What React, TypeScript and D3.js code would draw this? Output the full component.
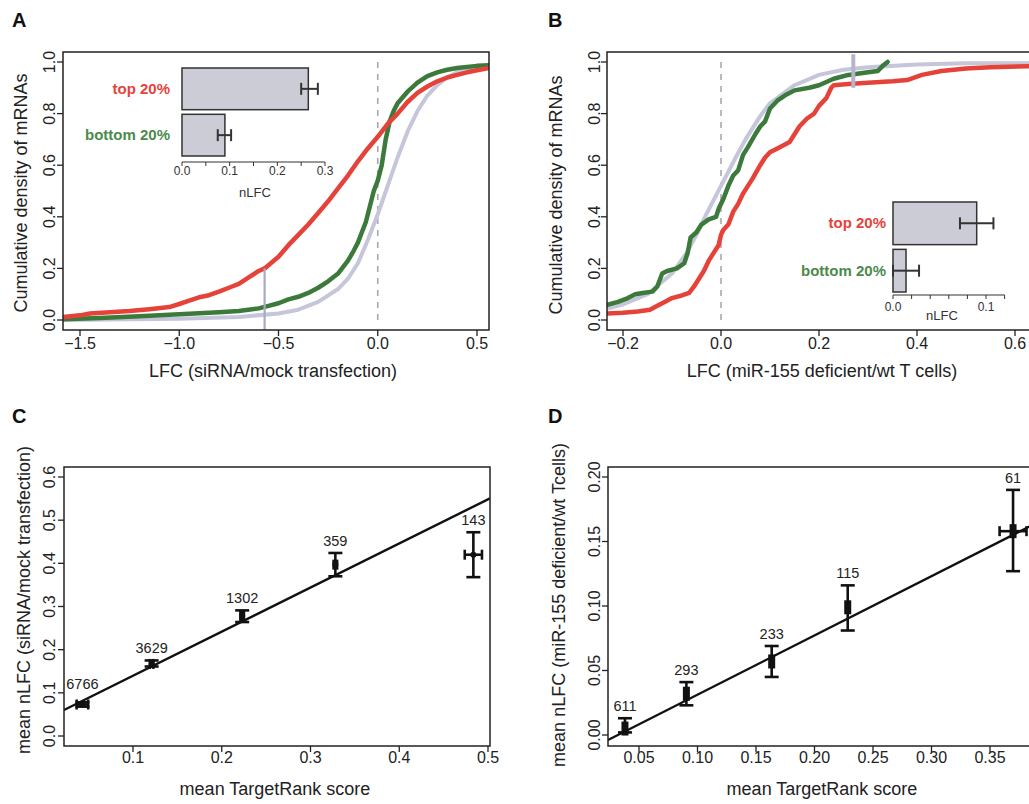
import React from 'react';
import * as d3 from 'd3';

const FONT = "'Liberation Sans', Arial, Helvetica, sans-serif";
const RED = '#e5433a';
const GREEN = '#3b7a3b';
const GREEN_TXT = '#4b8a4b';
const LAV = '#c6c6da';
const INK = '#222';

// ---------- Panel A (CDF, siRNA) ----------
const aTicksX = [-1.5, -1.0, -0.5, 0.0, 0.5];
const aTickLabelsX = ['\u22121.5', '\u22121.0', '\u22120.5', '0.0', '0.5'];
const cdfTicksY = [0, 0.2, 0.4, 0.6, 0.8, 1.0];
const cdfTickLabelsY = ['0.0', '0.2', '0.4', '0.6', '0.8', '1.0'];

const aRedX = [-1.6, -1.5, -1.45, -1.35, -1.25, -1.15, -1.05, -1.0, -0.95, -0.9, -0.85, -0.8, -0.75, -0.7, -0.65, -0.6, -0.57, -0.5, -0.45, -0.4, -0.35, -0.3, -0.25, -0.2, -0.15, -0.1, -0.05, 0.0, 0.05, 0.1, 0.15, 0.2, 0.25, 0.3, 0.35, 0.4, 0.45, 0.5, 0.57];
const aRedY = [0.01, 0.018, 0.025, 0.03, 0.035, 0.042, 0.05, 0.062, 0.075, 0.088, 0.096, 0.11, 0.125, 0.14, 0.165, 0.19, 0.2, 0.245, 0.29, 0.33, 0.37, 0.415, 0.46, 0.51, 0.56, 0.615, 0.665, 0.71, 0.76, 0.8, 0.845, 0.88, 0.905, 0.925, 0.94, 0.95, 0.96, 0.968, 0.978];

const aGreenX = [-1.6, -1.4, -1.2, -1.0, -0.8, -0.7, -0.6, -0.55, -0.5, -0.45, -0.4, -0.35, -0.3, -0.25, -0.2, -0.15, -0.12, -0.1, -0.08, -0.06, -0.04, -0.02, 0.0, 0.02, 0.04, 0.06, 0.08, 0.1, 0.15, 0.2, 0.25, 0.3, 0.35, 0.4, 0.5, 0.57];
const aGreenY = [0.003, 0.008, 0.015, 0.022, 0.03, 0.035, 0.045, 0.055, 0.065, 0.08, 0.09, 0.105, 0.125, 0.15, 0.18, 0.23, 0.27, 0.3, 0.34, 0.38, 0.44, 0.5, 0.54, 0.6, 0.7, 0.77, 0.81, 0.84, 0.885, 0.92, 0.945, 0.96, 0.97, 0.977, 0.985, 0.988];

const aGrayX = [-1.6, -1.0, -0.7, -0.5, -0.4, -0.3, -0.2, -0.15, -0.1, -0.05, 0.0, 0.05, 0.1, 0.15, 0.2, 0.25, 0.3, 0.35, 0.4, 0.5, 0.57];
const aGrayY = [0.0, 0.005, 0.012, 0.025, 0.04, 0.07, 0.12, 0.16, 0.22, 0.31, 0.41, 0.52, 0.63, 0.73, 0.81, 0.87, 0.91, 0.94, 0.96, 0.98, 0.985];

const aMarkerX = -0.57;
const aMarkerTop = 0.2;

const insetGroups = ['top 20%', 'bottom 20%'];
const aInsetValues = [0.265, 0.09];
const aInsetErrLo = [0.25, 0.075];
const aInsetErrHi = [0.285, 0.103];
const aInsetTicks = [0, 0.05, 0.1, 0.15, 0.2, 0.25, 0.3];
const aInsetTickLabels = ['0.0', '', '0.1', '', '0.2', '', '0.3'];

// ---------- Panel B (CDF, miR-155) ----------
const bTicksX = [-0.2, 0.0, 0.2, 0.4, 0.6];
const bTickLabelsX = ['\u22120.2', '0.0', '0.2', '0.4', '0.6'];

const bRedX = [-0.24, -0.2, -0.17, -0.145, -0.13, -0.115, -0.1, -0.08, -0.065, -0.055, -0.045, -0.035, -0.025, -0.015, -0.005, 0.0, 0.005, 0.015, 0.025, 0.035, 0.045, 0.055, 0.065, 0.08, 0.09, 0.1, 0.12, 0.14, 0.15, 0.16, 0.175, 0.19, 0.2, 0.215, 0.225, 0.23, 0.26, 0.3, 0.35, 0.38, 0.41, 0.45, 0.5, 0.55, 0.66];
const bRedY = [0.025, 0.028, 0.033, 0.04, 0.055, 0.07, 0.085, 0.095, 0.105, 0.13, 0.16, 0.19, 0.23, 0.26, 0.29, 0.33, 0.35, 0.37, 0.42, 0.45, 0.49, 0.52, 0.55, 0.6, 0.63, 0.65, 0.67, 0.69, 0.72, 0.75, 0.78, 0.8, 0.83, 0.86, 0.9, 0.91, 0.915, 0.92, 0.925, 0.93, 0.95, 0.965, 0.975, 0.98, 0.985];

const bGreenX = [-0.24, -0.21, -0.19, -0.175, -0.16, -0.14, -0.13, -0.12, -0.11, -0.09, -0.075, -0.068, -0.062, -0.05, -0.04, -0.025, -0.01, -0.005, 0.005, 0.015, 0.025, 0.035, 0.045, 0.055, 0.07, 0.08, 0.09, 0.1, 0.115, 0.13, 0.15, 0.18, 0.2, 0.23, 0.26, 0.3, 0.32, 0.33, 0.34];
const bGreenY = [0.055, 0.07, 0.085, 0.1, 0.105, 0.11, 0.13, 0.18, 0.19, 0.2, 0.22, 0.26, 0.32, 0.34, 0.37, 0.39, 0.4, 0.43, 0.47, 0.52, 0.56, 0.58, 0.64, 0.67, 0.72, 0.75, 0.77, 0.82, 0.85, 0.87, 0.89, 0.9, 0.91, 0.935, 0.95, 0.96, 0.965, 0.985, 1.0];

const bGrayX = [-0.24, -0.2, -0.15, -0.1, -0.07, -0.05, -0.03, 0.0, 0.03, 0.05, 0.08, 0.1, 0.15, 0.2, 0.25, 0.3, 0.4, 0.5, 0.66];
const bGrayY = [0.04, 0.06, 0.1, 0.18, 0.26, 0.33, 0.41, 0.52, 0.63, 0.7, 0.79, 0.84, 0.91, 0.95, 0.97, 0.98, 0.99, 0.995, 0.995];

const bMarkerX = 0.27;
const bMarkerLo = 0.9;
const bMarkerHi = 1.03;

const bInsetValues = [0.09, 0.014];
const bInsetErrLo = [0.072, 0.0];
const bInsetErrHi = [0.108, 0.028];
const bInsetTicks = [0, 0.02, 0.04, 0.06, 0.08, 0.1, 0.12];
const bInsetTickLabels = ['0.0', '', '', '', '', '0.1', ''];

// ---------- Panel C (scatter, siRNA) ----------
const cTicksX = [0.1, 0.2, 0.3, 0.4, 0.5];
const cTickLabelsX = ['0.1', '0.2', '0.3', '0.4', '0.5'];
const cTicksY = [0, 0.1, 0.2, 0.3, 0.4, 0.5, 0.6];
const cTickLabelsY = ['0.0', '0.1', '0.2', '0.3', '0.4', '0.5', '0.6'];
const cX = [0.043, 0.121, 0.223, 0.328, 0.4835];
const cY = [0.073, 0.167, 0.278, 0.397, 0.42];
const cYLo = [0.068, 0.161, 0.264, 0.37, 0.368];
const cYHi = [0.078, 0.175, 0.291, 0.424, 0.472];
const cXErr = [0.0065, 0.002, 0.002, 0.002, 0.0097];
const cN = ['6766', '3629', '1302', '359', '143'];
const cFitIntercept = 0.0374;
const cFitSlope = 1.0217;

// ---------- Panel D (scatter, miR-155) ----------
const dTicksX = [0.05, 0.1, 0.15, 0.2, 0.25, 0.3, 0.35];
const dTickLabelsX = ['0.05', '0.10', '0.15', '0.20', '0.25', '0.30', '0.35'];
const dTicksY = [0, 0.05, 0.1, 0.15, 0.2];
const dTickLabelsY = ['0.00', '0.05', '0.10', '0.15', '0.20'];
const dX = [0.038, 0.0905, 0.1634, 0.2284, 0.3697];
const dY = [0.005, 0.032, 0.057, 0.099, 0.158];
const dYLo = [0.002, 0.023, 0.045, 0.081, 0.127];
const dYHi = [0.013, 0.041, 0.069, 0.116, 0.19];
const dXErr = [0.001, 0.001, 0.001, 0.001, 0.0115];
const dN = ['611', '293', '233', '115', '61'];
const dFitIntercept = -0.0147;
const dFitSlope = 0.4595;

type Box = { x0: number; x1: number; y0: number; y1: number };
type Lin = d3.ScaleLinear<number, number>;

function Frame({ box }: { box: Box }) {
  return <rect x={box.x0} y={box.y0} width={box.x1 - box.x0} height={box.y1 - box.y0} fill="none" stroke={INK} strokeWidth={1.5} />;
}

function XAxis({ box, scale, ticks, labels, labelY }: { box: Box; scale: Lin; ticks: number[]; labels: string[]; labelY: number }) {
  return (
    <g>
      {ticks.map((t, i) => (
        <g key={i}>
          <line x1={scale(t)} x2={scale(t)} y1={box.y1} y2={box.y1 + 6} stroke={INK} strokeWidth={1.3} />
          <text x={scale(t)} y={labelY} textAnchor="middle" fontSize={16} fill={INK}>{labels[i]}</text>
        </g>
      ))}
    </g>
  );
}

function YAxis({ box, scale, ticks, labels, labelX }: { box: Box; scale: Lin; ticks: number[]; labels: string[]; labelX: number }) {
  return (
    <g>
      {ticks.map((t, i) => (
        <g key={i}>
          <line x1={box.x0} x2={box.x0 - 6} y1={scale(t)} y2={scale(t)} stroke={INK} strokeWidth={1.3} />
          <text transform={`translate(${labelX},${scale(t)}) rotate(-90)`} textAnchor="middle" fontSize={16} fill={INK}>{labels[i]}</text>
        </g>
      ))}
    </g>
  );
}

function curvePath(xs: number[], ys: number[], sx: Lin, sy: Lin) {
  const line = d3.line<number>().x((d) => sx(d)).y((_, i) => sy(ys[i])).curve(d3.curveLinear);
  return line(xs) || '';
}

function Inset({ sx, top, bottom, axisY, values, lo, hi, ticks, tickLabels, tickLabelY, labelRight, nlfcX, nlfcY }: any) {
  const band = d3.scaleBand<string>().domain(insetGroups).range([top, bottom]).paddingInner(0.1);
  const bw = band.bandwidth();
  const x0 = sx(0);
  return (
    <g>
      {insetGroups.map((g, i) => {
        const y = band(g) as number;
        const cy = y + bw / 2;
        return (
          <g key={g}>
            <rect x={x0} y={y} width={sx(values[i]) - x0} height={bw} fill="#cbccd6" stroke="#333" strokeWidth={1.5} />
            <line x1={sx(lo[i])} x2={sx(hi[i])} y1={cy} y2={cy} stroke="#333" strokeWidth={2} />
            <line x1={sx(lo[i])} x2={sx(lo[i])} y1={cy - 6} y2={cy + 6} stroke="#333" strokeWidth={2} />
            <line x1={sx(hi[i])} x2={sx(hi[i])} y1={cy - 6} y2={cy + 6} stroke="#333" strokeWidth={2} />
            <text x={labelRight} y={cy + 5} textAnchor="end" fontSize={15} fontWeight="bold" fill={i === 0 ? RED : GREEN_TXT}>{g}</text>
          </g>
        );
      })}
      <line x1={sx(ticks[0])} x2={sx(ticks[ticks.length - 1])} y1={axisY} y2={axisY} stroke="#333" strokeWidth={1.2} />
      {ticks.map((t: number, i: number) => (
        <g key={i}>
          <line x1={sx(t)} x2={sx(t)} y1={axisY} y2={axisY + 4} stroke="#333" strokeWidth={1} />
          {tickLabels[i] ? <text x={sx(t)} y={tickLabelY} textAnchor="middle" fontSize={12} fill="#333">{tickLabels[i]}</text> : null}
        </g>
      ))}
      <text x={nlfcX} y={nlfcY} textAnchor="middle" fontSize={13} fill="#333">nLFC</text>
    </g>
  );
}

function CdfPanel({ id, box, sx, sy, xTicks, xLabels, yLabelX, red, green, gray, children, xTitle, xTitleX, yTitleX, yTitleY, letter, letterX }: any) {
  return (
    <g>
      <defs>
        <clipPath id={id}><rect x={box.x0} y={box.y0} width={box.x1 - box.x0} height={box.y1 - box.y0} /></clipPath>
      </defs>
      <line x1={sx(0)} x2={sx(0)} y1={sy(1.0)} y2={sy(0)} stroke="#a8a8b0" strokeWidth={1.6} strokeDasharray="6,6" />
      <g clipPath={`url(#${id})`} fill="none" strokeLinejoin="round" strokeLinecap="round">
        <path d={curvePath(gray[0], gray[1], sx, sy)} stroke={LAV} strokeWidth={4} />
        <path d={curvePath(green[0], green[1], sx, sy)} stroke={GREEN} strokeWidth={4.5} />
        <path d={curvePath(red[0], red[1], sx, sy)} stroke={RED} strokeWidth={4.5} />
      </g>
      {children}
      <Frame box={box} />
      <XAxis box={box} scale={sx} ticks={xTicks} labels={xLabels} labelY={box.y1 + 19} />
      <YAxis box={box} scale={sy} ticks={cdfTicksY} labels={cdfTickLabelsY} labelX={yLabelX} />
      <text x={xTitleX} y={377} textAnchor="middle" fontSize={18} fill={INK}>{xTitle}</text>
      <text transform={`translate(${yTitleX},${yTitleY}) rotate(-90)`} textAnchor="middle" fontSize={18} fill={INK}>Cumulative density of mRNAs</text>
      <text x={letterX} y={27} fontSize={20} fontWeight="bold" fill="#111">{letter}</text>
    </g>
  );
}

function ScatterPanel({ id, box, sx, sy, xTicks, xLabels, yTicks, yLabels, yLabelX, xs, ys, lo, hi, xerr, ns, a, b, yTitle, xTitleX, yTitleX, yTitleY, letter, letterX, markerRect }: any) {
  const domX = sx.invert;
  return (
    <g>
      <defs>
        <clipPath id={id}><rect x={box.x0} y={box.y0} width={box.x1 - box.x0} height={box.y1 - box.y0} /></clipPath>
      </defs>
      <g clipPath={`url(#${id})`}>
        <line x1={box.x0} x2={box.x1} y1={sy(a + b * domX(box.x0))} y2={sy(a + b * domX(box.x1))} stroke="#111" strokeWidth={2.4} />
      </g>
      {xs.map((x: number, i: number) => {
        const px = sx(x);
        const topPx = sy(hi[i]);
        const fitPx = sy(a + b * x);
        // keep the count label clear of the fitted line when the line runs just above the bar
        const labelY = fitPx < topPx && topPx - fitPx < 15 ? fitPx - 12 : topPx - 7;
        return (
          <g key={i} stroke="#111" strokeWidth={2.6}>
            <line x1={px} x2={px} y1={sy(lo[i])} y2={sy(hi[i])} />
            <line x1={px - 7} x2={px + 7} y1={sy(lo[i])} y2={sy(lo[i])} />
            <line x1={px - 7} x2={px + 7} y1={sy(hi[i])} y2={sy(hi[i])} />
            <line x1={sx(x - xerr[i])} x2={sx(x + xerr[i])} y1={sy(ys[i])} y2={sy(ys[i])} />
            <line x1={sx(x - xerr[i])} x2={sx(x - xerr[i])} y1={sy(ys[i]) - 5} y2={sy(ys[i]) + 5} />
            <line x1={sx(x + xerr[i])} x2={sx(x + xerr[i])} y1={sy(ys[i]) - 5} y2={sy(ys[i]) + 5} />
            {markerRect
              ? <rect x={px - 3.5} y={sy(ys[i]) - 7} width={7} height={14} fill="#111" stroke="none" />
              : <circle cx={px} cy={sy(ys[i])} r={3} fill="#111" stroke="none" />}
            <text x={px} y={labelY} textAnchor="middle" fontSize={14.5} fill={INK} stroke="none">{ns[i]}</text>
          </g>
        );
      })}
      <Frame box={box} />
      <XAxis box={box} scale={sx} ticks={xTicks} labels={xLabels} labelY={box.y1 + 17} />
      <YAxis box={box} scale={sy} ticks={yTicks} labels={yLabels} labelX={yLabelX} />
      <text x={xTitleX} y={795} textAnchor="middle" fontSize={18} fill={INK}>mean TargetRank score</text>
      <text transform={`translate(${yTitleX},${yTitleY}) rotate(-90)`} textAnchor="middle" fontSize={18} fill={INK}>{yTitle}</text>
      <text x={letterX} y={423} fontSize={20} fontWeight="bold" fill="#111">{letter}</text>
    </g>
  );
}

export default function App() {
  const boxA: Box = { x0: 63, x1: 489, y0: 52, y1: 330 };
  const boxB: Box = { x0: 607, x1: 1045, y0: 52, y1: 330 };
  const boxC: Box = { x0: 64, x1: 490, y0: 467, y1: 746 };
  const boxD: Box = { x0: 608, x1: 1045, y0: 467, y1: 746 };

  const syCdf = d3.scaleLinear().domain([0, 1]).range([320, 62]);
  const sxA = d3.scaleLinear().domain([-1.5, 0.5]).range([80, 477]);
  const sxB = d3.scaleLinear().domain([-0.2, 0.6]).range([623, 1015]);
  const sxC = d3.scaleLinear().domain([0.1, 0.5]).range([133, 488]);
  const syC = d3.scaleLinear().domain([0, 0.6]).range([736, 477]);
  const sxD = d3.scaleLinear().domain([0.05, 0.35]).range([639, 990]);
  const syD = d3.scaleLinear().domain([0, 0.2]).range([735, 477]);

  const sxIA = d3.scaleLinear().domain([0, 0.3]).range([182, 325]);
  const sxIB = d3.scaleLinear().domain([0, 0.1]).range([893, 986]);

  return (
    <svg width={1029} height={804} style={{ position: 'absolute', left: 0, top: 0, background: '#fff' }} fontFamily={FONT}>
      <rect x={0} y={0} width={1029} height={804} fill="#fff" />
      <CdfPanel id="clipA" box={boxA} sx={sxA} sy={syCdf} xTicks={aTicksX} xLabels={aTickLabelsX} yLabelX={55}
        red={[aRedX, aRedY]} green={[aGreenX, aGreenY]} gray={[aGrayX, aGrayY]}
        xTitle="LFC (siRNA/mock transfection)" xTitleX={273} yTitleX={27} yTitleY={193} letter="A" letterX={12}>
        <line x1={sxA(aMarkerX)} x2={sxA(aMarkerX)} y1={boxA.y1} y2={syCdf(aMarkerTop)} stroke="#a9a9c6" strokeWidth={2.2} />
        <Inset sx={sxIA} top={68} bottom={156} axisY={162} values={aInsetValues} lo={aInsetErrLo} hi={aInsetErrHi}
          ticks={aInsetTicks} tickLabels={aInsetTickLabels} tickLabelY={175} labelRight={170} nlfcX={255} nlfcY={197} />
      </CdfPanel>
      <CdfPanel id="clipB" box={boxB} sx={sxB} sy={syCdf} xTicks={bTicksX} xLabels={bTickLabelsX} yLabelX={600}
        red={[bRedX, bRedY]} green={[bGreenX, bGreenY]} gray={[bGrayX, bGrayY]}
        xTitle="LFC (miR-155 deficient/wt T cells)" xTitleX={822} yTitleX={562} yTitleY={195} letter="B" letterX={548}>
        <line x1={sxB(bMarkerX)} x2={sxB(bMarkerX)} y1={syCdf(bMarkerLo)} y2={syCdf(bMarkerHi)} stroke="#b4b4cc" strokeWidth={4} />
        <Inset sx={sxIB} top={202} bottom={292} axisY={295} values={bInsetValues} lo={bInsetErrLo} hi={bInsetErrHi}
          ticks={bInsetTicks} tickLabels={bInsetTickLabels} tickLabelY={311} labelRight={886} nlfcX={942} nlfcY={320} />
      </CdfPanel>
      <ScatterPanel id="clipC" box={boxC} sx={sxC} sy={syC} xTicks={cTicksX} xLabels={cTickLabelsX} yTicks={cTicksY} yLabels={cTickLabelsY}
        yLabelX={55} xs={cX} ys={cY} lo={cYLo} hi={cYHi} xerr={cXErr} ns={cN} a={cFitIntercept} b={cFitSlope}
        yTitle="mean nLFC (siRNA/mock transfection)" xTitleX={275} yTitleX={30} yTitleY={600} letter="C" letterX={12} markerRect={false} />
      <ScatterPanel id="clipD" box={boxD} sx={sxD} sy={syD} xTicks={dTicksX} xLabels={dTickLabelsX} yTicks={dTicksY} yLabels={dTickLabelsY}
        yLabelX={600} xs={dX} ys={dY} lo={dYLo} hi={dYHi} xerr={dXErr} ns={dN} a={dFitIntercept} b={dFitSlope}
        yTitle="mean nLFC (miR-155 deficient/wt Tcells)" xTitleX={822} yTitleX={565} yTitleY={605} letter="D" letterX={548} markerRect={true} />
    </svg>
  );
}
